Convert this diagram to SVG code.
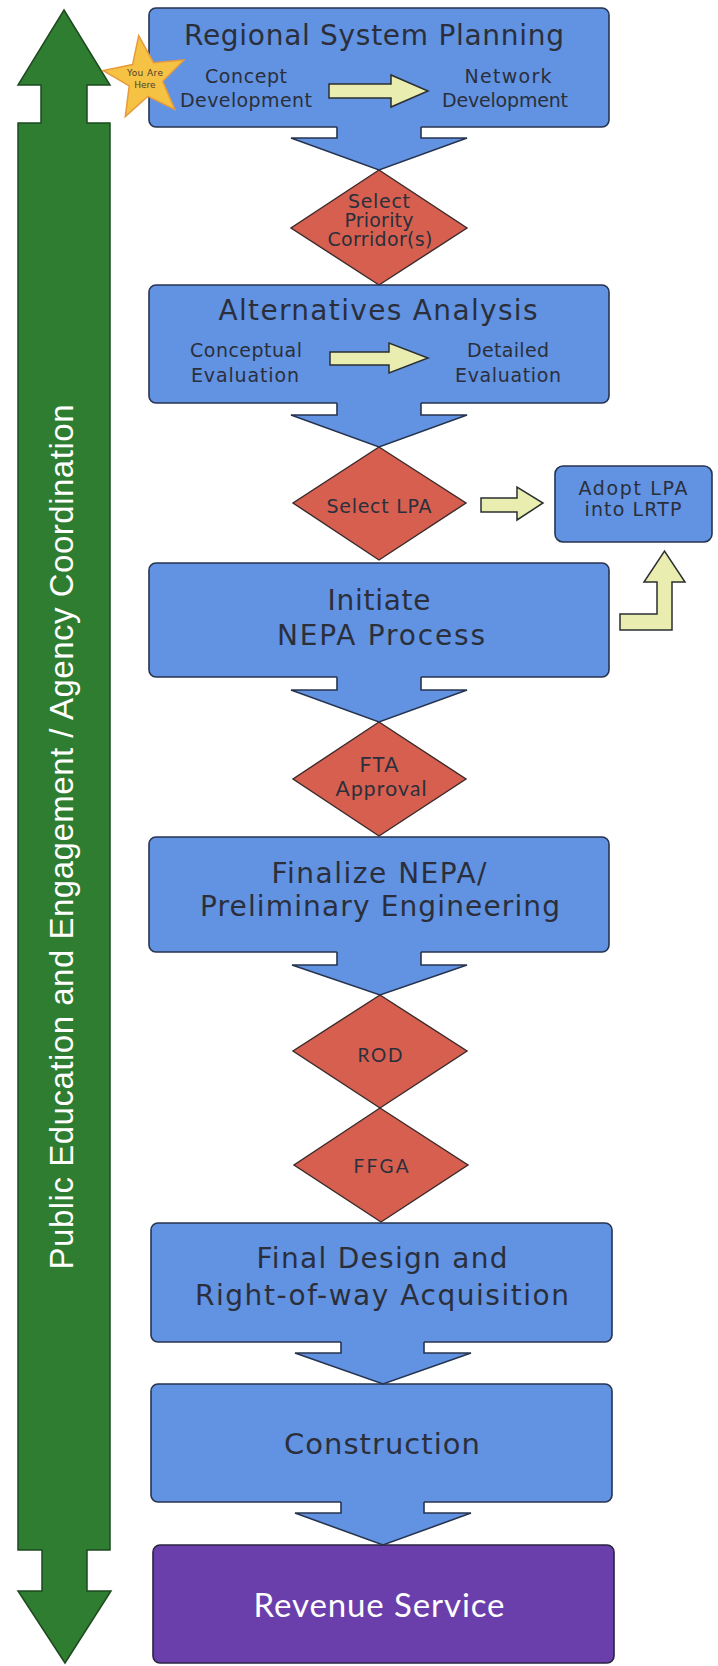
<svg xmlns="http://www.w3.org/2000/svg" width="718" height="1666" viewBox="0 0 718 1666">
<style>
.box{fill:#6193e2;stroke:#27344f;stroke-width:1.6}
.rev{fill:#6a3fab;stroke:#2b2440;stroke-width:1.6}
.dia{fill:#d65f4f;stroke:#3a2a2a;stroke-width:1.4}
.bf{fill:#6193e2;stroke:none}
.bs{fill:none;stroke:#27344f;stroke-width:1.6;stroke-linejoin:miter}
.ya{fill:#e9edb0;stroke:#2b2f2f;stroke-width:1.5}
.t{font-family:"DejaVu Sans",Verdana,sans-serif;fill:#2b2f3b;text-anchor:middle}
.c{font-family:Lato,"Open Sans",sans-serif;fill:#2b2f3b;text-anchor:middle}
.big{font-size:28px}
.mid{font-size:28px}
.sm{font-size:19px}
</style>
<rect width="718" height="1666" fill="#ffffff"/>

<g id="engagement-bar">
<path d="M64,10 L110,85 L87,85 L87,123 L110,123 L110,1550 L87,1550 L87,1591 L111,1591 L65,1663 L18,1591 L42,1591 L42,1550 L18,1550 L18,123 L41,123 L41,85 L18,85 Z" fill="#2f7d30" stroke="#1d4a1f" stroke-width="1.5"/>
<text transform="translate(73,837) rotate(-90)" font-family="Liberation Sans,Arial,sans-serif" font-size="33" fill="#ffffff" text-anchor="middle" textLength="865">Public Education and Engagement / Agency Coordination</text>
</g>

<g id="regional-system-planning">
<rect class="box" x="149" y="8" width="460" height="119" rx="7"/>
<text class="t big" x="374" y="45" textLength="380">Regional System Planning</text>
<text class="t sm" x="246" y="83" textLength="82">Concept</text>
<text class="t sm" x="246" y="107" textLength="132">Development</text>
<text class="t sm" x="508" y="83" textLength="87">Network</text>
<text class="t sm" x="505" y="107" textLength="126">Development</text>
<polygon class="ya" points="329,84 391,84 391,75 428,91 391,107 391,98 329,98"/>
</g>

<g id="you-are-here">
<polygon points="138.7,35.6 153.5,62.7 184,60 162.7,81.3 174.8,109.4 148,96.3 125.3,116.5 129.2,85.9 103.2,70.6 132.6,64.6" fill="#f5c244" stroke="#e79a3c" stroke-width="1.5"/>
<text x="145" y="76" font-family="DejaVu Sans,sans-serif" font-size="9" fill="#4a4030" text-anchor="middle" textLength="36">You Are</text>
<text x="145" y="88" font-family="DejaVu Sans,sans-serif" font-size="9" fill="#4a4030" text-anchor="middle">Here</text>
</g>

<g id="select-priority-corridors">
<polygon class="dia" points="379,170 467,228 379,285 291,228"/>
<text class="t sm" x="379" y="208" textLength="62">Select</text>
<text class="t sm" x="379" y="227" textLength="69">Priority</text>
<text class="t sm" x="380" y="246" textLength="105">Corridor(s)</text>
</g>

<g id="alternatives-analysis">
<rect class="box" x="149" y="285" width="460" height="118" rx="7"/>
<text class="t big" x="378" y="320" textLength="319">Alternatives Analysis</text>
<text class="t sm" x="246" y="357" textLength="112">Conceptual</text>
<text class="t sm" x="245" y="382" textLength="108">Evaluation</text>
<text class="t sm" x="508" y="357" textLength="82">Detailed</text>
<text class="t sm" x="508" y="382" textLength="106">Evaluation</text>
<polygon class="ya" points="330,352 389,352 389,343 428,358 389,373 389,365 330,365"/>
</g>

<g id="select-lpa">
<polygon class="dia" points="379,447 466,503 379,560 293,503"/>
<text class="t sm" x="379" y="513" textLength="105">Select LPA</text>
</g>

<g id="adopt-lpa">
<rect class="box" x="555" y="466" width="157" height="76" rx="8"/>
<text class="t sm" x="633" y="495" textLength="109">Adopt LPA</text>
<text class="t sm" x="633" y="516" textLength="97">into LRTP</text>
</g>

<g id="initiate-nepa">
<rect class="box" x="149" y="563" width="460" height="114" rx="7"/>
<text class="t mid" x="379" y="610" textLength="103">Initiate</text>
<text class="t mid" x="381" y="645" textLength="208">NEPA Process</text>
</g>

<g id="fta-approval">
<polygon class="dia" points="379,722 466,779 379,836 293,779"/>
<text class="c" font-size="21" x="379" y="772" textLength="39">FTA</text>
<text class="c" font-size="21" x="381" y="796" textLength="91">Approval</text>
</g>

<g id="finalize-nepa">
<rect class="box" x="149" y="837" width="460" height="115" rx="7"/>
<text class="t mid" x="379" y="883" textLength="215">Finalize NEPA/</text>
<text class="t mid" x="380" y="916" textLength="360">Preliminary Engineering</text>
</g>

<g id="rod">
<polygon class="dia" points="380,995 467,1051 380,1108 293,1051"/>
<text class="c" font-size="19" x="380" y="1062" textLength="45">ROD</text>
</g>

<g id="ffga">
<polygon class="dia" points="380,1108 468,1165 381,1222 294,1165"/>
<text class="c" font-size="19" x="381" y="1173" textLength="55">FFGA</text>
</g>

<g id="final-design">
<rect class="box" x="151" y="1223" width="461" height="119" rx="7"/>
<text class="t mid" x="382" y="1268" textLength="251">Final Design and</text>
<text class="t mid" x="382" y="1305" textLength="374">Right-of-way Acquisition</text>
</g>

<g id="construction">
<rect class="box" x="151" y="1384" width="461" height="118" rx="7"/>
<text class="t" font-size="29" x="382" y="1454" textLength="196">Construction</text>
</g>

<g id="revenue-service">
<rect class="rev" x="153" y="1545" width="461" height="118" rx="7"/>
<text font-family="Lato,'Open Sans',sans-serif" font-size="33" fill="#ffffff" text-anchor="middle" x="379" y="1617" textLength="251">Revenue Service</text>
</g>

<g id="connectors">
<polygon class="bf" points="337,124 421,124 421,138 467,138 379,170 291,138 337,138"/>
<polyline class="bs" points="337,127 337,138 291,138 379,170 467,138 421,138 421,127"/>

<polygon class="bf" points="337,400 421,400 421,415 467,415 379,447 291,415 337,415"/>
<polyline class="bs" points="337,403 337,415 291,415 379,447 467,415 421,415 421,403"/>

<polygon class="bf" points="337,674 421,674 421,690 467,690 379,722 291,690 337,690"/>
<polyline class="bs" points="337,677 337,690 291,690 379,722 467,690 421,690 421,677"/>

<polygon class="bf" points="337,949 421,949 421,965 467,965 380,995 292,965 337,965"/>
<polyline class="bs" points="337,952 337,965 292,965 380,995 467,965 421,965 421,952"/>

<polygon class="bf" points="341,1339 424,1339 424,1353 471,1353 383,1384 295,1353 341,1353"/>
<polyline class="bs" points="341,1342 341,1353 295,1353 383,1384 471,1353 424,1353 424,1342"/>

<polygon class="bf" points="341,1499 424,1499 424,1513 471,1513 383,1545 295,1513 341,1513"/>
<polyline class="bs" points="341,1502 341,1513 295,1513 383,1545 471,1513 424,1513 424,1502"/>

<polygon class="ya" points="481,498 517,498 517,487 543,503 517,520 517,512 481,512"/>
<polygon class="ya" points="620,614 657,614 657,582 644,582 664.5,551 685,582 672,582 672,630 620,630"/>
</g>
</svg>
